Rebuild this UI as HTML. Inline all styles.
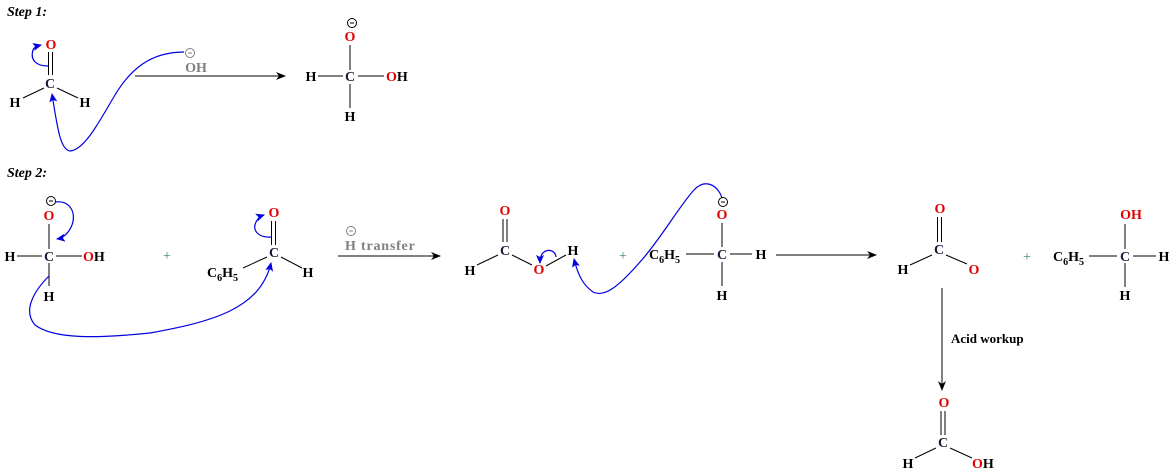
<!DOCTYPE html>
<html><head><meta charset="utf-8"><style>
html,body{margin:0;padding:0;background:#fff;}
svg{display:block;}
text{font-family:"Liberation Serif",serif;font-weight:bold;font-size:14px;text-anchor:middle;}
.r{fill:#e00000;}
.k{fill:#000;}
.c{fill:#1a1a3a;}
.g{fill:#808080;}
.st{font-style:italic;font-size:14px;text-anchor:start;}
.s{text-anchor:start;}
.sub{font-size:10px;}
line,.b{stroke:#000;stroke-width:1;}
.bl{fill:none;stroke:#0000e0;stroke-width:1.2;}
</style></head><body>
<svg width="1174" height="472" viewBox="0 0 1174 472" xmlns="http://www.w3.org/2000/svg">
<defs>
<marker id="ah" markerWidth="10" markerHeight="8" refX="9" refY="4" orient="auto" markerUnits="userSpaceOnUse"><path d="M0,0 L10,4 L0,8 L3,4z" fill="#000"/></marker>
<marker id="bh" markerWidth="9" markerHeight="8" refX="8" refY="4" orient="auto" markerUnits="userSpaceOnUse"><path d="M0,0 L9,4 L0,8 L2,4z" fill="#0000e0"/></marker>
</defs>

<!-- Step 1 -->
<text x="7" y="16" class="st k">Step 1:</text>
<text x="51" y="49" class="r">O</text>
<line x1="48.5" y1="52" x2="48.5" y2="75"/><line x1="52.5" y1="52" x2="52.5" y2="75"/>
<text x="50" y="88" class="c">C</text>
<line x1="44" y1="88" x2="23" y2="98"/><line x1="57" y1="88" x2="78" y2="98"/>
<text x="15" y="107" class="k">H</text>
<text x="85" y="107" class="k">H</text>
<path class="bl" d="M48,66 C36,66 30,60 33,50 C34,47 37,46 41,45" marker-end="url(#bh)"/>
<path class="bl" d="M184,52 C150,52 130,70 115,95 C100,120 85,150 70,151 C60,150 57,125 52,94" marker-end="url(#bh)"/>
<circle cx="190" cy="53" r="4.5" fill="none" stroke="#808080"/><line x1="188" y1="53" x2="192" y2="53" style="stroke:#808080"/>
<text x="196" y="72" class="g">OH</text>
<line x1="135" y1="76" x2="285" y2="76" marker-end="url(#ah)"/>

<circle cx="352" cy="23" r="4.5" fill="none" stroke="#000"/><line x1="350" y1="23" x2="354" y2="23"/>
<text x="350" y="41" class="r">O</text>
<line x1="350" y1="45" x2="350" y2="70"/><line x1="350" y1="84" x2="350" y2="108"/>
<line x1="318" y1="76" x2="343" y2="76"/><line x1="358" y1="76" x2="384" y2="76"/>
<text x="350" y="81" class="c">C</text>
<text x="311" y="81" class="k">H</text>
<text x="386" y="81" class="s"><tspan class="r">O</tspan><tspan class="k">H</tspan></text>
<text x="350" y="121" class="k">H</text>

<!-- Step 2 -->
<text x="7" y="177" class="st k">Step 2:</text>
<circle cx="51" cy="201" r="4.5" fill="none" stroke="#000"/><line x1="49" y1="201" x2="53" y2="201"/>
<text x="49" y="220" class="r">O</text>
<line x1="49" y1="224" x2="49" y2="249"/><line x1="49" y1="263" x2="49" y2="286"/>
<line x1="17" y1="256" x2="42" y2="256"/><line x1="56" y1="256" x2="82" y2="256"/>
<text x="49" y="261" class="c">C</text>
<text x="10" y="261" class="k">H</text>
<text x="83" y="261" class="s"><tspan class="r">O</tspan><tspan class="k">H</tspan></text>
<text x="49" y="301" class="k">H</text>
<path class="bl" d="M55,202 C72,200 76,215 72,225 C69,233 63,238 57,239" marker-end="url(#bh)"/>
<path class="bl" d="M49,276 C35,290 22,310 35,325 C55,340 100,338 150,333 C210,322 260,310 271,263" marker-end="url(#bh)"/>
<text x="167" y="260" fill="#2a7a7a" style="font-weight:normal">+</text>

<text x="274" y="217" class="r">O</text>
<line x1="271.5" y1="221" x2="271.5" y2="245"/><line x1="275.5" y1="221" x2="275.5" y2="245"/>
<text x="274" y="257" class="c">C</text>
<line x1="267" y1="257" x2="243" y2="268"/><line x1="281" y1="257" x2="302" y2="268"/>
<text x="207" y="277" class="k s">C<tspan class="sub" dy="4">6</tspan><tspan dy="-4">H</tspan><tspan class="sub" dy="4">5</tspan></text>
<text x="308" y="277" class="k">H</text>
<path class="bl" d="M271,237 C258,238 252,230 256,222 C258,218 261,216 264,215" marker-end="url(#bh)"/>

<circle cx="351" cy="231" r="4.5" fill="none" stroke="#808080"/><line x1="349" y1="231" x2="353" y2="231" style="stroke:#808080"/>
<text x="345" y="250" class="g s" style="letter-spacing:0.8px">H  transfer</text>
<line x1="338" y1="256" x2="440" y2="256" marker-end="url(#ah)"/>

<text x="505" y="215" class="r">O</text>
<line x1="503" y1="219" x2="503" y2="242"/><line x1="507" y1="219" x2="507" y2="242"/>
<text x="505" y="255" class="c">C</text>
<line x1="498" y1="255" x2="477" y2="265"/><line x1="512" y1="255" x2="532" y2="265"/>
<text x="470" y="275" class="k">H</text>
<text x="539" y="274" class="r">O</text>
<line x1="546" y1="266" x2="566" y2="255"/>
<text x="573" y="255" class="k">H</text>
<path class="bl" d="M556,257 C555,250 548,249 544,252 C541,254 540,258 540,263" marker-end="url(#bh)"/>
<path class="bl" d="M722,198 C718,185 705,178 694,190 C680,205 660,240 640,262 C620,285 605,298 593,292 C583,285 578,275 574,259" marker-end="url(#bh)"/>
<text x="623" y="260" fill="#2a7a7a" style="font-weight:normal">+</text>
<circle cx="723" cy="202" r="4.5" fill="none" stroke="#000"/><line x1="721" y1="202" x2="725" y2="202"/>
<text x="722" y="219" class="r">O</text>
<line x1="722" y1="223" x2="722" y2="247"/><line x1="722" y1="262" x2="722" y2="286"/>
<line x1="686" y1="254" x2="714" y2="254"/><line x1="730" y1="254" x2="752" y2="254"/>
<text x="722" y="259" class="c">C</text>
<text x="649" y="259" class="k s">C<tspan class="sub" dy="4">6</tspan><tspan dy="-4">H</tspan><tspan class="sub" dy="4">5</tspan></text>
<text x="761" y="259" class="k">H</text>
<text x="722" y="300" class="k">H</text>
<line x1="776" y1="255" x2="876" y2="255" marker-end="url(#ah)"/>

<text x="940" y="213" class="r">O</text>
<line x1="937.5" y1="217" x2="937.5" y2="242"/><line x1="941.5" y1="217" x2="941.5" y2="242"/>
<text x="939" y="254" class="c">C</text>
<line x1="932" y1="255" x2="910" y2="265"/><line x1="946" y1="255" x2="967" y2="264"/>
<text x="903" y="274" class="k">H</text>
<text x="974" y="274" class="r">O</text>
<text x="1027" y="261" fill="#2a7a7a" style="font-weight:normal">+</text>
<text x="1131" y="219"><tspan class="r">OH</tspan></text>
<line x1="1125" y1="224" x2="1125" y2="249"/><line x1="1125" y1="263" x2="1125" y2="287"/>
<line x1="1089" y1="256" x2="1117" y2="256"/><line x1="1133" y1="256" x2="1156" y2="256"/>
<text x="1125" y="261" class="c">C</text>
<text x="1053" y="261" class="k s">C<tspan class="sub" dy="4">6</tspan><tspan dy="-4">H</tspan><tspan class="sub" dy="4">5</tspan></text>
<text x="1164" y="261" class="k">H</text>
<text x="1125" y="300" class="k">H</text>

<line x1="942" y1="288" x2="942" y2="390" marker-end="url(#ah)"/>
<text x="951" y="343" class="k s" style="font-size:13px">Acid workup</text>

<text x="944" y="407" class="r">O</text>
<line x1="941" y1="411" x2="941" y2="435"/><line x1="945" y1="411" x2="945" y2="435"/>
<text x="943" y="447" class="c">C</text>
<line x1="936" y1="448" x2="915" y2="458"/><line x1="950" y1="448" x2="972" y2="458"/>
<text x="908" y="468" class="k">H</text>
<text x="972" y="468" class="s"><tspan class="r">O</tspan><tspan class="k">H</tspan></text>
</svg>
</body></html>
